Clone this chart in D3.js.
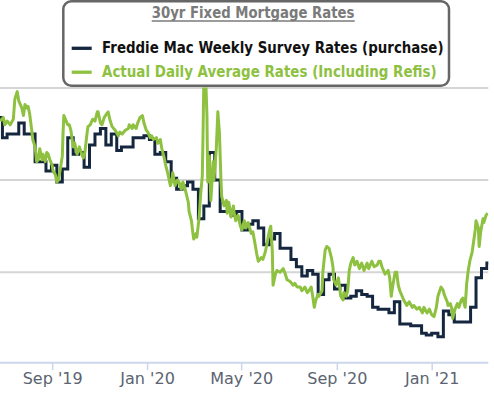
<!DOCTYPE html>
<html><head><meta charset="utf-8">
<script src="https://cdn.jsdelivr.net/npm/d3@7"></script>
<style>html,body{margin:0;padding:0;background:#fff;overflow:hidden}</style>
</head><body><svg id="chart" width="494" height="394"></svg>
<script>
// ---- DATA ----
const legendTitle = "30yr Fixed Mortgage Rates";
const seriesNames = ["Freddie Mac Weekly Survey Rates (purchase)", "Actual Daily Average Rates (Including Refis)"];
const tickDates = ["2019-09-01","2020-01-01","2020-05-01","2020-09-01","2021-01-01"];
const tickLabels = ["Sep '19","Jan '20","May '20","Sep '20","Jan '21"];
const gridValues = [3.0, 3.5, 4.0];

const freddieDates = ["2019-06-15","2019-06-22","2019-06-29","2019-07-05","2019-07-13","2019-07-20","2019-07-27","2019-08-03","2019-08-10","2019-08-17","2019-08-24","2019-08-31","2019-09-07","2019-09-14","2019-09-21","2019-09-28","2019-10-05","2019-10-12","2019-10-19","2019-10-26","2019-11-02","2019-11-09","2019-11-16","2019-11-23","2019-11-29","2019-12-07","2019-12-14","2019-12-21","2019-12-28","2020-01-04","2020-01-11","2020-01-18","2020-01-25","2020-02-01","2020-02-08","2020-02-15","2020-02-22","2020-02-29","2020-03-07","2020-03-14","2020-03-21","2020-03-28","2020-04-04","2020-04-11","2020-04-18","2020-04-25","2020-05-02","2020-05-09","2020-05-16","2020-05-23","2020-05-30","2020-06-06","2020-06-13","2020-06-20","2020-06-27","2020-07-04","2020-07-11","2020-07-18","2020-07-25","2020-08-01","2020-08-08","2020-08-15","2020-08-22","2020-08-29","2020-09-05","2020-09-12","2020-09-19","2020-09-26","2020-10-03","2020-10-10","2020-10-17","2020-10-24","2020-10-31","2020-11-07","2020-11-14","2020-11-21","2020-11-27","2020-12-05","2020-12-12","2020-12-19","2020-12-25","2021-01-01","2021-01-09","2021-01-16","2021-01-23","2021-01-30","2021-02-06","2021-02-13","2021-02-20","2021-02-27","2021-03-06","2021-03-13"];
const freddieRates = [3.82,3.84,3.73,3.75,3.75,3.81,3.75,3.75,3.60,3.60,3.55,3.58,3.49,3.56,3.73,3.64,3.65,3.57,3.69,3.75,3.78,3.69,3.75,3.66,3.68,3.68,3.73,3.73,3.74,3.72,3.64,3.65,3.60,3.51,3.45,3.47,3.49,3.45,3.29,3.36,3.65,3.50,3.33,3.33,3.31,3.33,3.23,3.26,3.28,3.24,3.15,3.18,3.21,3.13,3.13,3.07,3.03,2.98,3.01,2.99,2.88,2.96,2.99,2.91,2.93,2.86,2.87,2.90,2.88,2.87,2.81,2.80,2.80,2.78,2.84,2.72,2.72,2.71,2.71,2.67,2.66,2.67,2.65,2.79,2.77,2.73,2.73,2.73,2.81,2.97,3.02,3.05];

const dailyDates = ["2019-06-26","2019-06-30","2019-07-02","2019-07-05","2019-07-09","2019-07-13","2019-07-15","2019-07-18","2019-07-20","2019-07-24","2019-07-26","2019-07-28","2019-07-31","2019-08-01","2019-08-03","2019-08-06","2019-08-07","2019-08-10","2019-08-12","2019-08-14","2019-08-16","2019-08-19","2019-08-20","2019-08-23","2019-08-25","2019-08-27","2019-08-29","2019-09-01","2019-09-02","2019-09-05","2019-09-07","2019-09-09","2019-09-11","2019-09-14","2019-09-15","2019-09-16","2019-09-19","2019-09-21","2019-09-23","2019-09-25","2019-09-28","2019-09-30","2019-10-03","2019-10-06","2019-10-09","2019-10-11","2019-10-13","2019-10-16","2019-10-17","2019-10-20","2019-10-23","2019-10-26","2019-10-29","2019-10-30","2019-11-02","2019-11-04","2019-11-07","2019-11-10","2019-11-12","2019-11-14","2019-11-17","2019-11-21","2019-11-25","2019-11-27","2019-11-30","2019-12-04","2019-12-08","2019-12-09","2019-12-13","2019-12-14","2019-12-18","2019-12-20","2019-12-23","2019-12-26","2019-12-28","2019-12-31","2020-01-02","2020-01-05","2020-01-07","2020-01-09","2020-01-13","2020-01-15","2020-01-18","2020-01-20","2020-01-23","2020-01-25","2020-01-28","2020-01-31","2020-02-02","2020-02-03","2020-02-06","2020-02-09","2020-02-11","2020-02-14","2020-02-16","2020-02-19","2020-02-23","2020-02-24","2020-02-27","2020-02-29","2020-03-01","2020-03-04","2020-03-05","2020-03-08","2020-03-10","2020-03-12","2020-03-13","2020-03-14","2020-03-16","2020-03-18","2020-03-19","2020-03-21","2020-03-23","2020-03-26","2020-03-27","2020-03-30","2020-04-01","2020-04-03","2020-04-05","2020-04-06","2020-04-09","2020-04-12","2020-04-13","2020-04-15","2020-04-18","2020-04-21","2020-04-22","2020-04-24","2020-04-27","2020-04-30","2020-05-02","2020-05-05","2020-05-07","2020-05-10","2020-05-14","2020-05-16","2020-05-19","2020-05-21","2020-05-23","2020-05-27","2020-05-29","2020-06-01","2020-06-03","2020-06-06","2020-06-08","2020-06-10","2020-06-11","2020-06-14","2020-06-16","2020-06-20","2020-06-24","2020-06-26","2020-06-29","2020-07-03","2020-07-07","2020-07-09","2020-07-12","2020-07-16","2020-07-18","2020-07-22","2020-07-25","2020-07-27","2020-07-30","2020-08-01","2020-08-03","2020-08-05","2020-08-08","2020-08-09","2020-08-13","2020-08-14","2020-08-17","2020-08-19","2020-08-22","2020-08-25","2020-08-27","2020-08-28","2020-08-31","2020-09-03","2020-09-04","2020-09-06","2020-09-09","2020-09-10","2020-09-13","2020-09-15","2020-09-17","2020-09-19","2020-09-22","2020-09-24","2020-09-27","2020-09-30","2020-10-03","2020-10-06","2020-10-10","2020-10-12","2020-10-16","2020-10-19","2020-10-23","2020-10-25","2020-10-27","2020-10-29","2020-11-02","2020-11-06","2020-11-08","2020-11-10","2020-11-12","2020-11-15","2020-11-17","2020-11-19","2020-11-21","2020-11-24","2020-11-26","2020-11-30","2020-12-03","2020-12-07","2020-12-09","2020-12-13","2020-12-16","2020-12-20","2020-12-22","2020-12-26","2020-12-29","2021-01-01","2021-01-04","2021-01-07","2021-01-09","2021-01-13","2021-01-16","2021-01-17","2021-01-21","2021-01-22","2021-01-25","2021-01-27","2021-01-28","2021-01-31","2021-02-03","2021-02-05","2021-02-08","2021-02-10","2021-02-13","2021-02-15","2021-02-17","2021-02-19","2021-02-22","2021-02-23","2021-02-26","2021-02-27","2021-03-02","2021-03-03","2021-03-05","2021-03-08","2021-03-09","2021-03-12","2021-03-14"];
const dailyRates = [3.82,3.84,3.80,3.82,3.80,3.83,3.94,3.98,3.93,3.89,3.85,3.91,3.89,3.90,3.86,3.76,3.72,3.68,3.60,3.61,3.67,3.61,3.64,3.60,3.65,3.64,3.61,3.58,3.55,3.53,3.49,3.50,3.55,3.63,3.76,3.85,3.82,3.80,3.80,3.77,3.68,3.70,3.64,3.68,3.64,3.62,3.65,3.76,3.79,3.80,3.83,3.82,3.87,3.87,3.81,3.80,3.84,3.86,3.87,3.83,3.79,3.77,3.74,3.76,3.75,3.77,3.78,3.80,3.78,3.80,3.78,3.81,3.84,3.85,3.81,3.77,3.76,3.73,3.74,3.72,3.73,3.70,3.72,3.67,3.62,3.58,3.53,3.47,3.50,3.54,3.47,3.50,3.49,3.45,3.49,3.45,3.38,3.33,3.28,3.21,3.18,3.21,3.19,3.30,3.43,3.52,3.76,4.05,4.10,3.85,3.49,3.63,3.39,3.60,3.50,3.67,3.87,3.76,3.50,3.41,3.36,3.39,3.32,3.38,3.30,3.36,3.32,3.28,3.31,3.25,3.23,3.28,3.24,3.27,3.21,3.22,3.15,3.10,3.06,3.08,3.07,3.11,3.15,3.22,3.25,3.12,2.93,2.99,3.01,3.00,3.02,3.00,2.96,2.95,2.93,2.94,2.92,2.92,2.90,2.92,2.89,2.90,2.92,2.87,2.81,2.85,2.88,2.87,2.90,3.00,3.12,3.14,3.13,3.08,3.03,2.96,2.93,2.97,2.94,2.87,2.85,2.89,2.87,2.90,3.01,3.05,3.08,3.04,3.06,3.02,3.05,3.01,3.05,3.02,3.06,3.03,3.04,3.06,3.06,3.03,2.99,3.01,2.97,2.87,2.93,3.00,3.00,2.93,2.90,2.87,2.85,2.82,2.84,2.81,2.82,2.80,2.81,2.78,2.81,2.78,2.80,2.77,2.76,2.81,2.87,2.92,2.90,2.88,2.84,2.82,2.83,2.80,2.75,2.80,2.83,2.81,2.85,2.86,2.81,2.94,3.01,3.06,3.11,3.14,3.23,3.28,3.24,3.14,3.22,3.29,3.27,3.31,3.32];

// ---- CHART ----
const parse = d3.utcParse("%Y-%m-%d");
const W = 494, H = 394;
const plot = {left: 0, right: 488.3, top: 87.9, bottom: 362.7};
const svg = d3.select("#chart");
const x = d3.scaleUtc().domain([parse(tickDates[0]), parse(tickDates[tickDates.length-1])]).range([52.2, 431.7]);
const y = d3.scaleLinear().domain([3.0, 4.0]).range([272.3, 87.9]);

svg.append("rect").attr("width", W).attr("height", H).attr("fill", "#fff");

svg.append("g").selectAll("line").data(gridValues).join("line")
  .attr("x1", plot.left).attr("x2", plot.right)
  .attr("y1", d => y(d)).attr("y2", d => y(d))
  .attr("stroke", "#d5d5d5").attr("stroke-width", 2);

const xAxis = d3.axisBottom(x).tickValues(tickDates.map(parse))
  .tickFormat((d, i) => tickLabels[i]).tickSize(7.5).tickSizeOuter(0);
const gx = svg.append("g").attr("transform", `translate(0,${plot.bottom})`).call(xAxis)
  .attr("font-family", "'DejaVu Sans', Verdana, sans-serif").attr("font-size", 16);
gx.select(".domain").remove();
gx.append("line").attr("x1", plot.left).attr("x2", plot.right).attr("y1", 0).attr("y2", 0)
  .attr("stroke", "#ccd6eb").attr("stroke-width", 2);
gx.selectAll(".tick line").attr("stroke", "#ccd6eb").attr("stroke-width", 1.5);
gx.selectAll(".tick text").attr("y", 21.6).attr("dy", 0).attr("fill", "#5b6470");

svg.append("clipPath").attr("id", "plotclip").append("rect")
  .attr("x", plot.left).attr("y", plot.top - 0.4)
  .attr("width", plot.right - plot.left).attr("height", plot.bottom - plot.top + 0.4);

const freddie = freddieDates.map((d, i) => ({date: parse(d), v: freddieRates[i]}));
freddie.push({date: x.invert(plot.right + 3), v: freddieRates[freddieRates.length - 1]});
const daily = dailyDates.map((d, i) => ({date: parse(d), v: dailyRates[i]}));

const lines = svg.append("g").attr("clip-path", "url(#plotclip)");
lines.append("path").datum(freddie)
  .attr("d", d3.line().x(d => x(d.date)).y(d => y(d.v)).curve(d3.curveStepAfter))
  .attr("fill", "none").attr("stroke", "#15263f").attr("stroke-width", 3);
lines.append("path").datum(daily)
  .attr("d", d3.line().x(d => x(d.date)).y(d => y(d.v)))
  .attr("fill", "none").attr("stroke", "#8dc13f").attr("stroke-width", 3)
  .attr("stroke-linejoin", "round");

// ---- LEGEND ----
const lg = svg.append("g").attr("font-family", "'DejaVu Sans', Verdana, sans-serif").attr("font-weight", "bold");
lg.append("rect").attr("x", 63.3).attr("y", 1.3).attr("width", 385.7).attr("height", 84.4)
  .attr("rx", 8).attr("ry", 8).attr("fill", "#fff").attr("stroke", "#666").attr("stroke-width", 2.5);

// fit a text to a target width by horizontal scaling (keeps glyph height)
function fitText(sel, x0, yBase, target) {
  const natural = sel.node().getComputedTextLength();
  const k = natural > 0 ? target / natural : 1;
  sel.attr("x", 0).attr("y", 0).attr("transform", `translate(${x0},${yBase}) scale(${k},1)`);
}

const title = lg.append("text").attr("font-size", 15).attr("fill", "#7a7a7a").text(legendTitle);
fitText(title, 151.7, 18.3, 203);
lg.append("line").attr("x1", 151.7).attr("x2", 354.7).attr("y1", 21).attr("y2", 21)
  .attr("stroke", "#7a7a7a").attr("stroke-width", 1.4);
const colors = ["#15263f", "#8dc13f"];
const textColors = ["#111111", "#8dc13f"];
const itemY = [48.3, 72.2], baseY = [53.3, 77.2], widths = [342, 335];
seriesNames.forEach((name, i) => {
  lg.append("line").attr("x1", 71.7).attr("x2", 91.7).attr("y1", itemY[i]).attr("y2", itemY[i])
    .attr("stroke", colors[i]).attr("stroke-width", 3.3);
  const t = lg.append("text").attr("font-size", 15.5).attr("fill", textColors[i]).text(name);
  fitText(t, 102, baseY[i], widths[i]);
});
</script>
</body></html>
